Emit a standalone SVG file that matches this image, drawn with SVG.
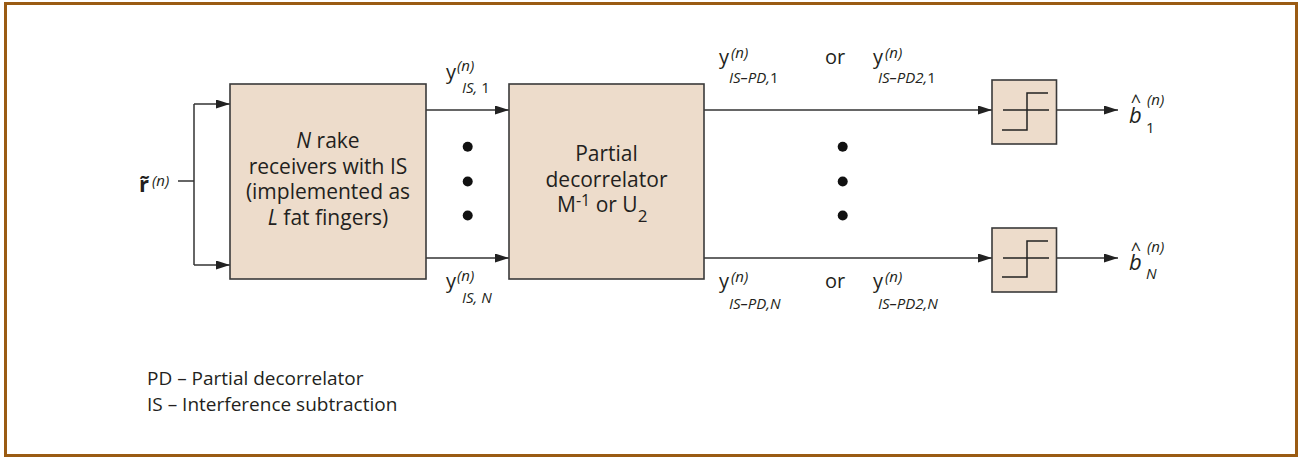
<svg xmlns="http://www.w3.org/2000/svg" width="1302" height="458" viewBox="0 0 1302 458">
<style>
text{font-family:"Open Sans","DejaVu Sans",sans-serif;fill:#231f20}
.m{font-size:20px}
.b{font-size:21px}
.c{text-anchor:middle}
.it{font-style:italic}
.sup{font-size:15px;font-style:italic}
.sub{font-size:15px}
.hat{font-size:18px;text-anchor:middle}
.box{fill:#eddccb;stroke:#3a3a3a;stroke-width:1.6}
.ln{fill:none;stroke:#333;stroke-width:1.5}
.sym{fill:none;stroke:#222;stroke-width:1.5}
.dot{fill:#111}
</style>
<defs>
<marker id="ah" markerUnits="userSpaceOnUse" viewBox="0 0 14 9" refX="14" refY="4.5" markerWidth="14" markerHeight="9" orient="auto">
<path d="M0,0 L14,4.5 L0,9 z" fill="#222"/>
</marker>
</defs>
<rect x="5.5" y="3.5" width="1291" height="452" fill="#fff" stroke="#9a5b13" stroke-width="3"/>

<g id="connectors">
<path class="ln" d="M178,181 H194"/>
<path class="ln" d="M194,104 V265"/>
<path class="ln" d="M194,104 H230" marker-end="url(#ah)"/>
<path class="ln" d="M194,265 H230" marker-end="url(#ah)"/>
<path class="ln" d="M426,110 H509" marker-end="url(#ah)"/>
<path class="ln" d="M426,258 H509" marker-end="url(#ah)"/>
<path class="ln" d="M704,110 H992" marker-end="url(#ah)"/>
<path class="ln" d="M704,258 H992" marker-end="url(#ah)"/>
<path class="ln" d="M1057,110 H1118" marker-end="url(#ah)"/>
<path class="ln" d="M1057,258 H1118" marker-end="url(#ah)"/>
</g>

<g id="input">
<text x="139" y="192" font-size="22" font-weight="bold">r&#x0303;</text>
<text class="sup" x="152" y="186">(n)</text>
</g>

<g id="rake">
<rect class="box" x="230" y="84" width="196" height="195"/>
<text class="b c" x="328" y="148"><tspan font-style="italic">N</tspan> rake</text>
<text class="b c" x="328" y="173.5">receivers with IS</text>
<text class="b c" x="328" y="199">(implemented as</text>
<text class="b c" x="328" y="224.5"><tspan font-style="italic">L</tspan> fat fingers)</text>
</g>

<g id="dots-left">
<circle class="dot" cx="467.7" cy="146.7" r="5"/>
<circle class="dot" cx="467.7" cy="181.5" r="5"/>
<circle class="dot" cx="467.7" cy="215.5" r="5"/>
</g>

<g id="label-is1">
<text class="m" x="446" y="78.5">y</text>
<text class="sup" x="457" y="71">(n)</text>
<text class="sub" x="462" y="93"><tspan font-style="italic">IS,</tspan> 1</text>
</g>
<g id="label-isN">
<text class="m" x="446" y="287.5">y</text>
<text class="sup" x="457" y="281">(n)</text>
<text class="sub it" x="462" y="302.5">IS, N</text>
</g>

<g id="decorrelator">
<rect class="box" x="509" y="84" width="195" height="195"/>
<text class="b c" x="606.5" y="160.5">Partial</text>
<text class="b c" x="606.5" y="186.5">decorrelator</text>
<text class="b" x="557" y="212">M<tspan font-size="16" dy="-6">-1</tspan><tspan dy="6"> or U</tspan><tspan font-size="17" dy="10">2</tspan></text>
</g>

<g id="dots-right">
<circle class="dot" cx="842.7" cy="146.7" r="5"/>
<circle class="dot" cx="842.7" cy="181.5" r="5"/>
<circle class="dot" cx="842.7" cy="215.5" r="5"/>
</g>

<g id="label-pd1">
<text class="m" x="719" y="64">y</text>
<text class="sup" x="731" y="58">(n)</text>
<text class="sub" x="729" y="82.5"><tspan font-style="italic">IS–PD,</tspan>1</text>
<text class="m" x="825" y="64">or</text>
<text class="m" x="873" y="64">y</text>
<text class="sup" x="885" y="58">(n)</text>
<text class="sub" x="878" y="82.5"><tspan font-style="italic">IS–PD2,</tspan>1</text>
</g>
<g id="label-pdN">
<text class="m" x="719" y="288">y</text>
<text class="sup" x="731" y="282">(n)</text>
<text class="sub it" x="729" y="308.5">IS–PD,N</text>
<text class="m" x="825" y="288">or</text>
<text class="m" x="873" y="288">y</text>
<text class="sup" x="885" y="282">(n)</text>
<text class="sub it" x="878" y="308.5">IS–PD2,N</text>
</g>

<g id="decision-1">
<rect class="box" x="992" y="80" width="64.5" height="64"/>
<path class="sym" d="M1003,110 H1049 M1002,130 H1027 V93 H1048"/>
</g>
<g id="decision-N">
<rect class="box" x="992" y="228" width="64.5" height="64"/>
<path class="sym" d="M1003,258 H1049 M1002,277 H1027 V241 H1048"/>
</g>

<g id="out-1">
<text class="hat" x="1136" y="108">^</text>
<text class="it" x="1129" y="123" font-size="22">b</text>
<text class="sup" x="1147" y="105">(n)</text>
<text class="sub" x="1146" y="133">1</text>
</g>
<g id="out-N">
<text class="hat" x="1136" y="256">^</text>
<text class="it" x="1129" y="270" font-size="22">b</text>
<text class="sup" x="1147" y="252">(n)</text>
<text class="sub it" x="1146" y="279">N</text>
</g>

<g id="legend">
<text x="147" y="384.5" font-size="19">PD – Partial decorrelator</text>
<text x="147" y="410.5" font-size="19">IS – Interference subtraction</text>
</g>
</svg>
